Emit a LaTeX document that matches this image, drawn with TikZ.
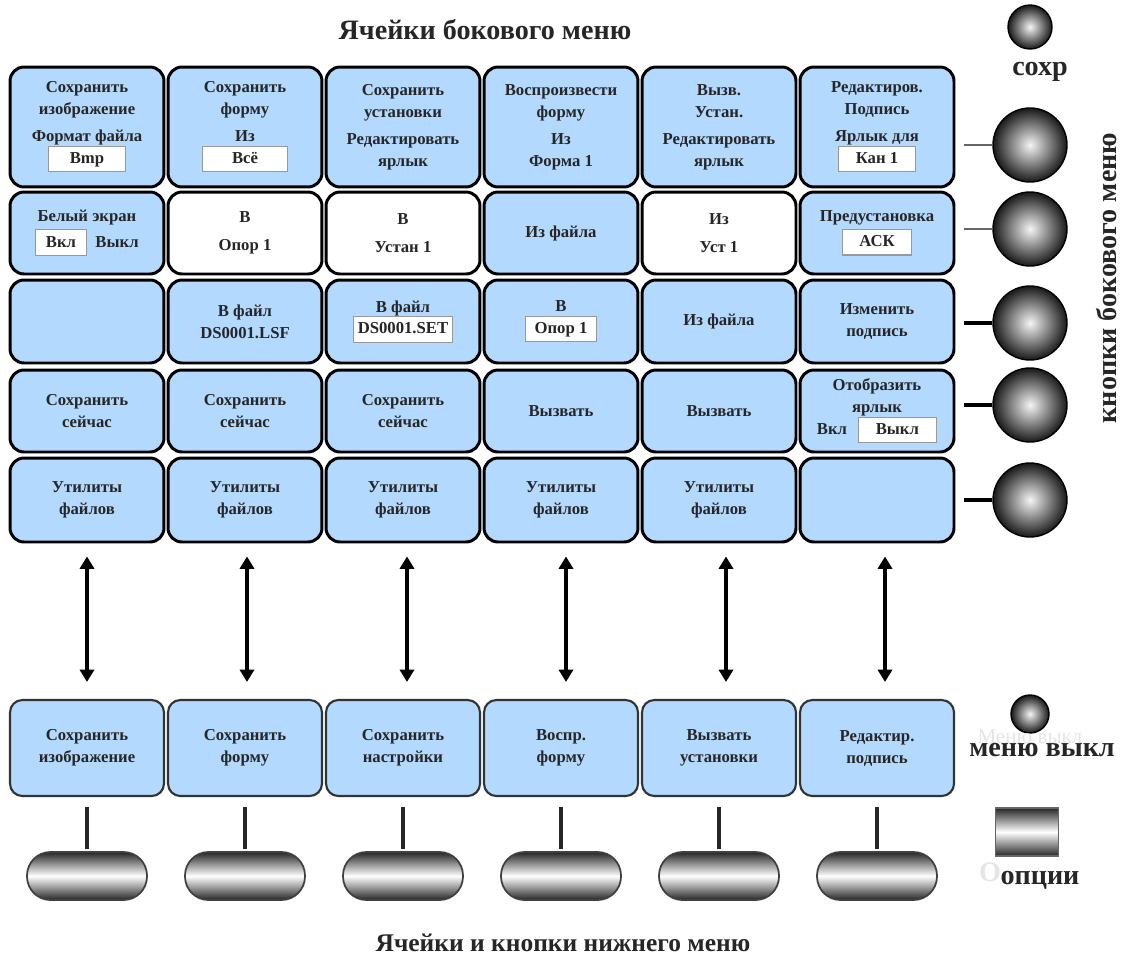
\documentclass[tikz,border=0pt]{standalone}
\usepackage{fontspec}
\setmainfont{Liberation Serif}
\usetikzlibrary{arrows.meta,positioning}

\definecolor{cellblue}{HTML}{B3D9FF}
\definecolor{boxgray}{gray}{0.6}
\newcommand{\valbox}[2]{{\setlength{\fboxsep}{1.5pt}\setlength{\fboxrule}{0.6pt}\fcolorbox{boxgray}{white}{\makebox[#1]{\rule[-2.8pt]{0pt}{11pt}#2}}}}

\tikzset{
  cell/.style={rectangle,rounded corners=8pt,draw=black,line width=1.7pt,fill=cellblue,
    minimum width=3.08cm,align=center,inner sep=1pt,text=black!85,
    font=\fontsize{9.5}{12.5}\selectfont\bfseries},
  whitecell/.style={cell,fill=white},
  botcell/.style={cell,draw=black!80,line width=1.2pt,rounded corners=7pt,minimum height=1.92cm},
  rowone/.style={minimum height=2.4cm},
  rowtwo/.style={minimum height=1.64cm},
  rowthree/.style={minimum height=1.66cm},
  rowfour/.style={minimum height=1.64cm},
  rowfive/.style={minimum height=1.68cm},
  knob/.style={circle,draw=black,line width=0.8pt,inner color=gray!8,outer color=black!90,
    minimum size=1.48cm,inner sep=0pt},
  pill/.style={rectangle,rounded corners=0.47cm,draw=black!75,line width=1pt,
    top color=black!85,bottom color=black!85,middle color=white,
    minimum width=2.4cm,minimum height=0.96cm},
  caption/.style={font=\fontsize{16}{18}\selectfont\bfseries,text=black!85},
  updown/.style={{Triangle[width=8pt,length=7pt]}-{Triangle[width=8pt,length=7pt]},line width=2.2pt},
  thinlink/.style={draw=black!60,line width=1.2pt},
  thicklink/.style={draw=black,line width=2.4pt}
}

\begin{document}
\begin{tikzpicture}[x=0.02cm,y=-0.02cm]
  \useasboundingbox (0,0) rectangle (1126,970);

  \node[caption] (title) at (485,30) {Ячейки бокового меню};

  % first row
  \node[cell,rowone] (c11) at (87,127) {Сохранить\\изображение\\[3pt]Формат файла\\\valbox{40pt}{Bmp}};
  \node[cell,rowone] (c12) at (245,127) {Сохранить\\форму\\[3pt]Из\\\valbox{45pt}{Всё}};
  \node[cell,rowone] (c13) at (403,127) {Сохранить\\установки\\[3pt]Редактировать\\ярлык};
  \node[cell,rowone] (c14) at (561,127) {Воспроизвести\\форму\\[3pt]Из\\Форма 1};
  \node[cell,rowone] (c15) at (719,127) {Вызв.\\Устан.\\[3pt]Редактировать\\ярлык};
  \node[cell,rowone] (c16) at (877,127) {Редактиров.\\Подпись\\[3pt]Ярлык для\\\valbox{40pt}{Кан 1}};

  % second row
  \node[cell,rowtwo] (c21) at (87,233) {Белый экран\\[2pt]\valbox{25pt}{Вкл}\hspace{5pt}Выкл};
  \node[whitecell,rowtwo] (c22) at (245,233) {В\\[3.5pt]Опор 1};
  \node[whitecell,rowtwo] (c23) at (403,233) {В\\[3.5pt]Устан 1};
  \node[cell,rowtwo] (c24) at (561,233) {Из файла};
  \node[whitecell,rowtwo] (c25) at (719,233) {Из\\[3.5pt]Уст 1};
  \node[cell,rowtwo] (c26) at (877,233) {Предустановка\\[2pt]\valbox{36pt}{АСК}};

  % third row
  \node[cell,rowthree] (c31) at (87,321.5) {};
  \node[cell,rowthree] (c32) at (245,321.5) {В файл\\DS0001.LSF};
  \node[cell,rowthree] (c33) at (403,321.5) {В файл\\\valbox{53pt}{DS0001.SET}};
  \node[cell,rowthree] (c34) at (561,321.5) {В\\\valbox{37pt}{Опор 1}};
  \node[cell,rowthree] (c35) at (719,321.5) {Из файла};
  \node[cell,rowthree] (c36) at (877,321.5) {Изменить\\подпись};

  % fourth row
  \node[cell,rowfour] (c41) at (87,411) {Сохранить\\сейчас};
  \node[cell,rowfour] (c42) at (245,411) {Сохранить\\сейчас};
  \node[cell,rowfour] (c43) at (403,411) {Сохранить\\сейчас};
  \node[cell,rowfour] (c44) at (561,411) {Вызвать};
  \node[cell,rowfour] (c45) at (719,411) {Вызвать};
  \node[cell,rowfour] (c46) at (877,411) {Отобразить\\ярлык\\Вкл\hspace{6pt}\valbox{41pt}{Выкл}};

  % fifth row
  \node[cell,rowfive] (c51) at (87,500) {Утилиты\\файлов};
  \node[cell,rowfive] (c52) at (245,500) {Утилиты\\файлов};
  \node[cell,rowfive] (c53) at (403,500) {Утилиты\\файлов};
  \node[cell,rowfive] (c54) at (561,500) {Утилиты\\файлов};
  \node[cell,rowfive] (c55) at (719,500) {Утилиты\\файлов};
  \node[cell,rowfive] (c56) at (877,500) {};

  % bottom menu
  \node[botcell] (b1) at (87,748) {Сохранить\\изображение};
  \node[botcell] (b2) at (245,748) {Сохранить\\форму};
  \node[botcell] (b3) at (403,748) {Сохранить\\настройки};
  \node[botcell] (b4) at (561,748) {Воспр.\\форму};
  \node[botcell] (b5) at (719,748) {Вызвать\\установки};
  \node[botcell] (b6) at (877,748) {Редактир.\\подпись};

  \foreach \i/\dx in {1/0,2/2,3/4,4/5,5/7,6/8}
    \draw[updown,shorten <=0.26cm,shorten >=0.34cm]
      ([xshift=\dx*0.02cm]c5\i.south) -- ([xshift=\dx*0.02cm]b\i.north);

  \foreach \i/\x in {1/87,2/245,3/403,4/561,5/719,6/877} {
    \node[pill] (p\i) at (\x,876) {};
    \draw[line width=2.4pt,draw=black!85,shorten <=0.2cm,shorten >=0.04cm] (b\i.south) -- (p\i.north);
  }

  % side buttons
  \node[knob,minimum size=0.88cm] (save) at (1030,27) {};
  \node[caption] (savet) at (1040,72) {сохр};
  \foreach \r/\y in {1/145,2/229,3/323,4/405,5/500}
    \node[knob] (k\r) at (1030,\y) {};
  \foreach \r in {1,2}
    \draw[thinlink,shorten >=0.18cm] (k\r.west) -- (k\r.west -| c\r6.east);
  \foreach \r in {3,4,5}
    \draw[thicklink,shorten >=0.18cm] (k\r.west) -- (k\r.west -| c\r6.east);
  \node[caption,rotate=90] (sidet) at (1107,278) {кнопки бокового меню};

  % menu off and options
  \node[knob,minimum size=0.76cm] (off) at (1030,714) {};
  \node[font=\fontsize{12}{14}\selectfont,text=gray!20] (offghost) at (1030,737) {Меню выкл};
  \node[caption] (offt) at (1042,750) {меню выкл};
  \node[rectangle,draw=black!60,line width=0.6pt,top color=black!85,bottom color=black!85,
    middle color=white,minimum width=1.26cm,minimum height=0.96cm] (opt) at (1027,832) {};
  \node[caption,text=gray!20] (optghost) at (990,872) {О};
  \node[caption] (optt) at (1040,880) {опции};

  \node[caption,font=\fontsize{14.5}{17}\selectfont\bfseries] (foot) at (563,943) {Ячейки и кнопки нижнего меню};
\end{tikzpicture}
\end{document}
